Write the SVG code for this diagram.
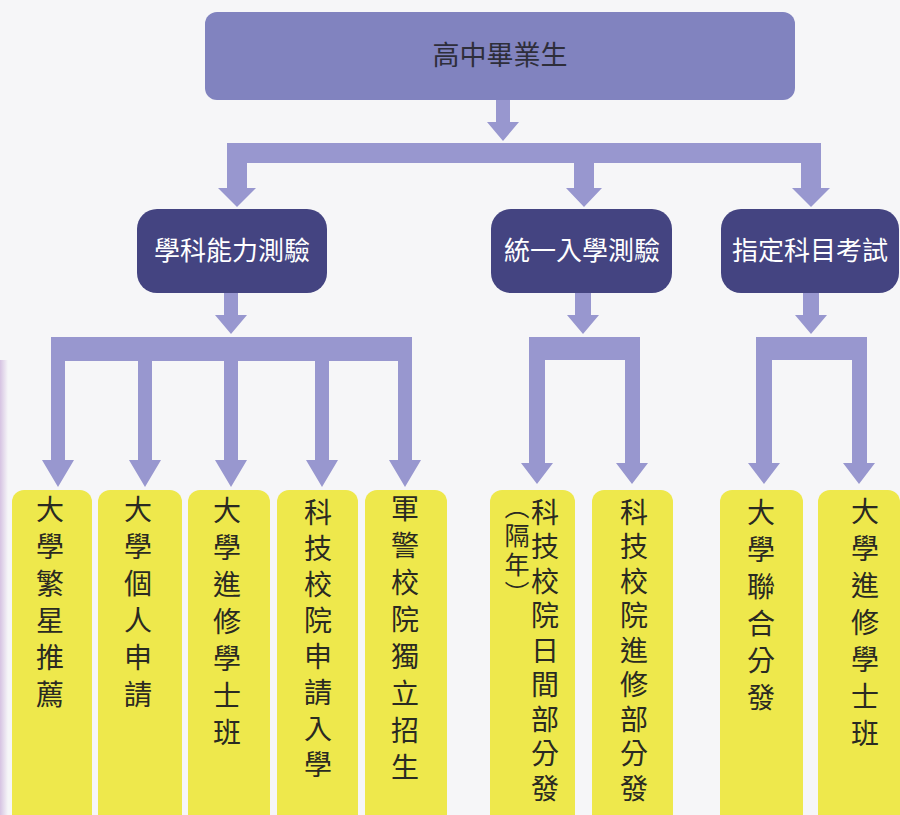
<svg xmlns="http://www.w3.org/2000/svg" width="900" height="815" viewBox="0 0 900 815">
<defs>
<linearGradient id="edge" x1="0" y1="0" x2="1" y2="0">
<stop offset="0" stop-color="#D6C3E2"/>
<stop offset="1" stop-color="#F6F6F8"/>
</linearGradient>
<style>
.conn{fill:#9897CF;}
.top{fill:#8183BF;}
.mid{fill:#444481;}
.leaf{fill:#EEE84C;}
.t{font-family:"Noto Sans CJK TC","Noto Sans CJK SC",sans-serif;}
.tt{font-size:27px;fill:#2E2E3A;text-anchor:middle;}
.mt{font-size:26px;fill:#FFFFFF;text-anchor:middle;}
.v{writing-mode:vertical-rl;text-anchor:start;fill:#2A2A22;}
.lt{font-size:28px;letter-spacing:9px;}
.lt9{font-size:28px;letter-spacing:6.5px;}
.pt{font-size:25px;letter-spacing:4px;}
</style>
</defs>
<rect width="900" height="815" fill="#F6F6F8"/>
<rect x="0" y="360" width="8" height="455" fill="url(#edge)"/>

<g id="connectors">
<path class="conn" d="M496,100 H510 V122 H519 L503,141 L487,122 H496 Z"/>
<path class="conn" d="M227,143 H821 V188 H830 L811,207 L792,188 H801 V163 H594 V188 H602 L584,207 L566,188 H574 V163 H247 V188 H256 L237,207 L218,188 H227 Z"/>
<path class="conn" d="M224,293 H238 V315 H247 L231,334 L215,315 H224 Z"/>
<path class="conn" d="M51,337 H412 V460 H421 L405,487 L389,460 H398 V361 H329 V460 H338 L322,487 L306,460 H315 V361 H238 V460 H247 L231,487 L215,460 H224 V361 H152 V460 H161 L145,487 L129,460 H138 V361 H65 V460 H74 L58,487 L42,460 H51 Z"/>
<path class="conn" d="M575,293 H591 V315 H599 L583,334 L567,315 H575 Z"/>
<path class="conn" d="M529,337 H640 V463 H648 L632,484 L616,463 H625 V360 H545 V463 H553 L537,484 L521,463 H529 Z"/>
<path class="conn" d="M803,293 H819 V315 H827 L811,334 L795,315 H803 Z"/>
<path class="conn" d="M756,337 H867 V463 H875 L859,484 L843,463 H852 V360 H772 V463 H780 L764,484 L748,463 H756 Z"/>
</g>

<g id="node-root">
<rect class="top" x="205" y="12" width="590" height="88" rx="12"/>
<text class="t tt" x="500" y="65">高中畢業生</text>
</g>

<g id="node-gsat">
<rect class="mid" x="137" y="209" width="190" height="84" rx="20"/>
<text class="t mt" x="232" y="260">學科能力測驗</text>
</g>
<g id="node-tve">
<rect class="mid" x="491" y="209" width="181" height="84" rx="20"/>
<text class="t mt" x="582" y="260">統一入學測驗</text>
</g>
<g id="node-ast">
<rect class="mid" x="721" y="209" width="178" height="84" rx="20"/>
<text class="t mt" x="810" y="260">指定科目考試</text>
</g>

<g id="leaf-1">
<rect class="leaf" x="12" y="490" width="80" height="340" rx="12"/>
<text class="t v lt" x="50" y="495">大學繁星推薦</text>
</g>
<g id="leaf-2">
<rect class="leaf" x="98" y="490" width="84" height="340" rx="12"/>
<text class="t v lt" x="138" y="495">大學個人申請</text>
</g>
<g id="leaf-3">
<rect class="leaf" x="188" y="490" width="82" height="340" rx="12"/>
<text class="t v lt" x="227" y="496">大學進修學士班</text>
</g>
<g id="leaf-4">
<rect class="leaf" x="277" y="490" width="81" height="340" rx="12"/>
<text class="t v lt" x="318" y="498" style="letter-spacing:8px">科技校院申請入學</text>
</g>
<g id="leaf-5">
<rect class="leaf" x="365" y="490" width="82" height="340" rx="12"/>
<text class="t v lt" x="405" y="494">軍警校院獨立招生</text>
</g>
<g id="leaf-6">
<rect class="leaf" x="490" y="490" width="85" height="340" rx="12"/>
<text class="t v lt9" x="545" y="498">科技校院日間部分發</text>
<text class="t v pt" x="517" y="494">（隔年）</text>
</g>
<g id="leaf-7">
<rect class="leaf" x="592" y="490" width="81" height="340" rx="12"/>
<text class="t v lt9" x="634" y="498">科技校院進修部分發</text>
</g>
<g id="leaf-8">
<rect class="leaf" x="720" y="490" width="83" height="340" rx="12"/>
<text class="t v lt" x="761" y="498">大學聯合分發</text>
</g>
<g id="leaf-9">
<rect class="leaf" x="818" y="490" width="82" height="340" rx="12"/>
<text class="t v lt" x="865" y="497">大學進修學士班</text>
</g>
</svg>
